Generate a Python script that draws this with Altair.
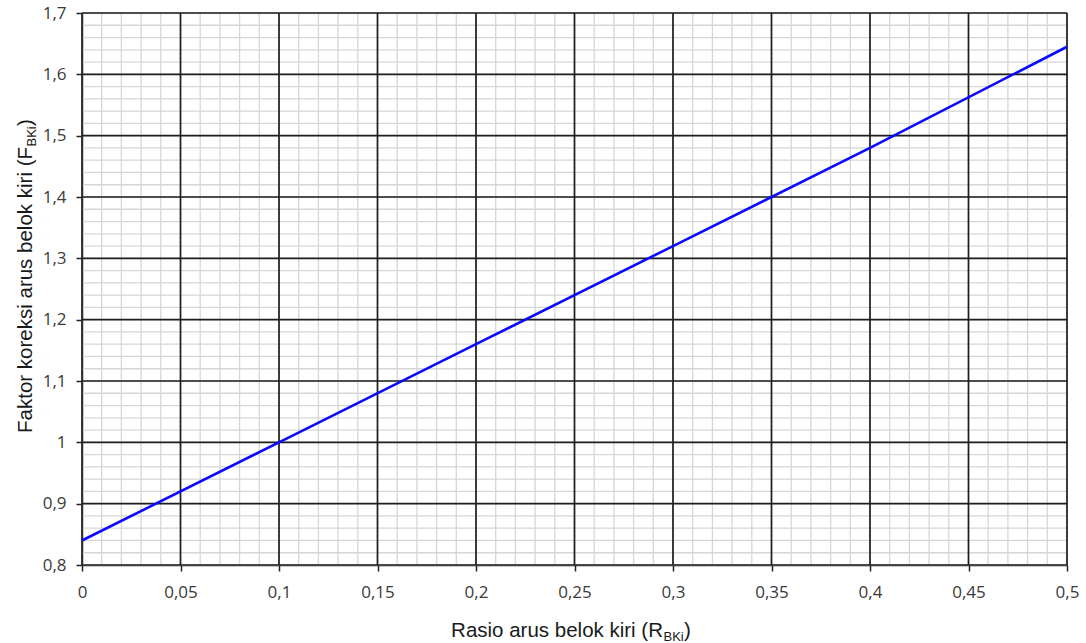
import altair as alt
import pandas as pd

# Line values
ratio = [0.0, 0.1, 0.2, 0.3, 0.4, 0.5]
factor = [0.84, 1.0, 1.16, 1.32, 1.48, 1.645]

# Axis ticks
x_major = [0, 0.05, 0.1, 0.15, 0.2, 0.25, 0.3, 0.35, 0.4, 0.45, 0.5]
y_major = [0.8, 0.9, 1.0, 1.1, 1.2, 1.3, 1.4, 1.5, 1.6, 1.7]
x_minor = [round(i * 0.01, 2) for i in range(51)]
y_minor = [round(0.8 + i * 0.02, 2) for i in range(46)]

W, H = 985, 552

line_df = pd.DataFrame({"R": ratio, "F": factor})
xmin_df = pd.DataFrame({"v": x_minor})
ymin_df = pd.DataFrame({"v": y_minor})
xmaj_df = pd.DataFrame({"v": x_major})
ymaj_df = pd.DataFrame({"v": y_major})

xs = alt.Scale(domain=[0, 0.5], nice=False, zero=False)
ys = alt.Scale(domain=[0.8, 1.7], nice=False, zero=False)

label_expr = "replace(format(datum.value, '~g'), '.', ',')"

x_axis = alt.Axis(values=x_major, grid=False, title=None, labelExpr=label_expr,
                  labelFont="Open Sans", labelFontSize=17, labelColor="#3a3a3a",
                  labelPadding=13, tickSize=6, tickColor="#222", tickWidth=1.5,
                  domainColor="#222", domainWidth=1.5, labelFlush=False)
y_axis = alt.Axis(values=y_major, grid=False, title=None, labelExpr=label_expr,
                  labelFont="Open Sans", labelFontSize=17, labelColor="#3a3a3a",
                  labelPadding=10, tickSize=6, tickColor="#222", tickWidth=1.5,
                  domainColor="#222", domainWidth=1.5, labelFlush=False)

minor_x = alt.Chart(xmin_df).mark_rule(color="#d6d6d6", strokeWidth=1.3).encode(
    x=alt.X("v:Q", scale=xs, axis=x_axis))
minor_y = alt.Chart(ymin_df).mark_rule(color="#d6d6d6", strokeWidth=1.3).encode(
    y=alt.Y("v:Q", scale=ys, axis=y_axis))
major_x = alt.Chart(xmaj_df).mark_rule(color="#1e1e1e", strokeWidth=1.7).encode(
    x=alt.X("v:Q", scale=xs, axis=x_axis))
major_y = alt.Chart(ymaj_df).mark_rule(color="#1e1e1e", strokeWidth=1.7).encode(
    y=alt.Y("v:Q", scale=ys, axis=y_axis))

line = alt.Chart(line_df).mark_line(color="#0a0aff", strokeWidth=2.6).encode(
    x=alt.X("R:Q", scale=xs, axis=x_axis),
    y=alt.Y("F:Q", scale=ys, axis=y_axis),
)

title_font = "Liberation Sans"
title_color = "#1a1a1a"
one = pd.DataFrame({"a": [0]})

# X-axis title with subscript
xt_main = alt.Chart(one).mark_text(text="Rasio arus belok kiri (R", align="right", baseline="alphabetic",
                                   font=title_font, fontSize=20.5, color=title_color).encode(
    x=alt.value(581), y=alt.value(624))
xt_sub = alt.Chart(one).mark_text(text="BKi", align="left", baseline="alphabetic",
                                  font=title_font, fontSize=13, color=title_color).encode(
    x=alt.value(581.5), y=alt.value(628))
xt_end = alt.Chart(one).mark_text(text=")", align="left", baseline="alphabetic",
                                  font=title_font, fontSize=20.5, color=title_color).encode(
    x=alt.value(602), y=alt.value(624))

# Y-axis title with subscript (rotated)
yt_main = alt.Chart(one).mark_text(text="Faktor koreksi arus belok kiri (F", align="right", baseline="alphabetic",
                                   angle=270, font=title_font, fontSize=20.5, color=title_color).encode(
    x=alt.value(-50), y=alt.value(134))
yt_sub = alt.Chart(one).mark_text(text="BKi", align="left", baseline="alphabetic",
                                  angle=270, font=title_font, fontSize=13, color=title_color).encode(
    x=alt.value(-46), y=alt.value(133.5))
yt_end = alt.Chart(one).mark_text(text=")", align="left", baseline="alphabetic",
                                  angle=270, font=title_font, fontSize=20.5, color=title_color).encode(
    x=alt.value(-50), y=alt.value(113))

chart = alt.layer(minor_x, minor_y, major_x, major_y, line,
                  xt_main, xt_sub, xt_end, yt_main, yt_sub, yt_end).properties(
    width=W, height=H,
    autosize=alt.AutoSizeParams(type="none"),
    padding={"left": 82, "top": 13, "right": 19, "bottom": 78},
).configure_view(stroke=None).configure(background="white")

chart.save("out.html", embed_options={"renderer": "svg", "actions": False})
